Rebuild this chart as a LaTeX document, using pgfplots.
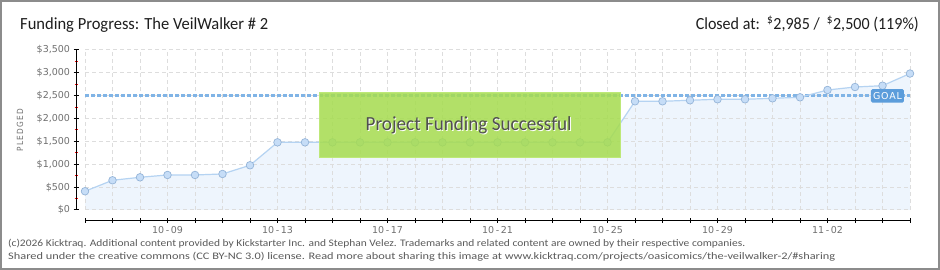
\documentclass[border=0pt]{standalone}
\usepackage{pgfplots}
\pgfplotsset{compat=1.18}
\usepackage{pgfplotstable}
\usepackage{graphicx}
\usepackage{fontspec}
\setmainfont{Carlito}
\newfontfamily\tickfont{DejaVu Sans}
\newfontfamily\spacedfont[LetterSpace=18]{DejaVu Sans}
\newfontfamily\goalfont[LetterSpace=8]{DejaVu Sans}
\definecolor{framegray}{HTML}{8C8C8C}
\definecolor{titlec}{HTML}{1E1E1E}
\definecolor{tickc}{HTML}{707070}
\definecolor{footc}{HTML}{5A5A5A}
\definecolor{gridc}{HTML}{DDDDDD}
\definecolor{fillc}{HTML}{EEF5FD}
\definecolor{linec}{HTML}{B5D3F2}
\definecolor{markfill}{HTML}{C6DDF7}
\definecolor{markdraw}{HTML}{94B4D8}
\definecolor{goalc}{HTML}{80B4E6}
\definecolor{goalbox}{HTML}{5C9DDB}
\definecolor{greenbox}{HTML}{A6DC50}
\definecolor{greenedge}{HTML}{BDE878}
\definecolor{greentext}{HTML}{505050}

\pgfplotstableread{
day val
0 410
1 650
2 715
3 766
4 766
5 788
6 978
7 1480
8 1480
9 1480
10 1480
11 1480
12 1480
13 1480
14 1480
15 1480
16 1480
17 1480
18 1480
19 1480
20 2378
21 2378
22 2400
23 2422
24 2422
25 2443
26 2465
27 2625
28 2690
29 2719
30 2985
}\datatable

\begin{document}
\begin{tikzpicture}
\useasboundingbox (0pt,0pt) rectangle (940pt,270pt);
\fill[white] (0pt,0pt) rectangle (940pt,270pt);
% titles
\node[anchor=base west, inner sep=0, font=\fontsize{17}{20}\selectfont, text=titlec] at (20pt,240.7pt)
  {\resizebox{248pt}{\height}{Funding Progress: The VeilWalker \# 2}};
\node[anchor=base east, inner sep=0, font=\fontsize{17}{20}\selectfont, text=titlec] at (919pt,240.7pt)
  {\resizebox{223pt}{\height}{Closed at:\ \ \textsuperscript{\$}2,985 / \ \textsuperscript{\$}2,500 (119\%)}};
% footer
\node[anchor=base west, inner sep=0, font=\fontsize{10}{12}\selectfont, text=footc] at (8pt,23.5pt)
  {\resizebox{737pt}{\height}{(c)2026 Kicktraq. Additional content provided by Kickstarter Inc. and Stephan Velez. Trademarks and related content are owned by their respective companies.}};
\node[anchor=base west, inner sep=0, font=\fontsize{10}{12}\selectfont, text=footc] at (8pt,10.5pt)
  {\resizebox{827pt}{\height}{Shared under the creative commons (CC BY-NC 3.0) license. Read more about sharing this image at www.kicktraq.com/projects/oasicomics/the-veilwalker-2/\#sharing}};
% y label
\node[rotate=90, inner sep=0, font=\spacedfont\fontsize{8.5}{9}\selectfont, text=tickc] at (20pt,140pt)
  {\resizebox{43pt}{\height}{PLEDGED}};
\begin{axis}[
  at={(76pt,49.5pt)}, anchor=south west,
  scale only axis, width=834pt, height=170.5pt,
  xmin=-0.3273, xmax=30, ymin=-230, ymax=3500,
  clip=false,
  axis line style={draw=none},
  tick pos=left,
  tick align=center,
  major tick length=5pt,
  minor tick length=3pt,
  every tick/.style={black, line width=1pt},
  minor tick style={red, line width=1pt},
  xtick={0,...,30},
  xticklabels={,,,10\,-\,09,,,,10\,-\,13,,,,10\,-\,17,,,,10\,-\,21,,,,10\,-\,25,,,,10\,-\,29,,,,11\,-\,02,,,},
  ytick={0,500,...,3500},
  yticklabels={\$0,\$500,{\$1,000},{\$1,500},{\$2,000},{\$2,500},{\$3,000},{\$3,500}},
  minor ytick={250,750,...,3250},
  ticklabel style={text=tickc, font=\tickfont\fontsize{9.5}{10}\selectfont},
]
% area
\addplot[fill=fillc, draw=none] table[x=day,y=val] {\datatable} \closedcycle;
% grid
\pgfplotsinvokeforeach{0,...,30}{\draw[gridc, line width=1pt, dash pattern=on 4pt off 3pt] (axis cs:#1,0) -- (axis cs:#1,3500);}
\pgfplotsinvokeforeach{0,500,...,3500}{\draw[gridc, line width=1pt, dash pattern=on 4pt off 3pt] (axis cs:0,#1) -- (axis cs:30,#1);}
% axis lines
\draw[black, line width=1pt] (axis cs:0,-230) -- (axis cs:30,-230);
\draw[black, line width=1pt] (axis cs:-0.3273,0) -- (axis cs:-0.3273,3500);
% goal line
\addplot[goalc, line width=3pt, dash pattern=on 3.5pt off 2.5pt] coordinates {(0,2500) (30,2500)};
% data
\addplot[linec, line width=1.2pt, mark=*, mark size=3.8pt, mark options={fill=markfill, draw=markdraw, line width=0.7pt}] table[x=day,y=val] {\datatable};
\coordinate (gbA) at (axis cs:8.545,1144);
\coordinate (gbB) at (axis cs:19.49,2575);
\coordinate (gbT) at (axis cs:13.95,1728);
\coordinate (goalpos) at (axis cs:29.18,2497);
\end{axis}
% success box (on top of the plot)
\fill[greenbox, opacity=0.86] (gbA) rectangle (gbB);
\draw[greenedge, line width=1pt] (gbA) rectangle (gbB);
\node[anchor=base, inner sep=0, text=white, font=\fontsize{20}{22}\selectfont] at ([xshift=0.9pt,yshift=-0.9pt]gbT) {\resizebox{206pt}{\height}{Project Funding Successful}};
\node[anchor=base, inner sep=0, text=greentext, font=\fontsize{20}{22}\selectfont] at (gbT) {\resizebox{206pt}{\height}{Project Funding Successful}};
% goal label
\node[fill=goalbox, rounded corners=1.5pt, text=white, font=\goalfont\fontsize{9.5}{10}\selectfont, minimum width=33pt, minimum height=13.5pt, inner sep=0] at (goalpos) {GOAL};
\draw[framegray, line width=2pt] (1pt,1pt) rectangle (939pt,269pt);
\end{tikzpicture}
\end{document}
